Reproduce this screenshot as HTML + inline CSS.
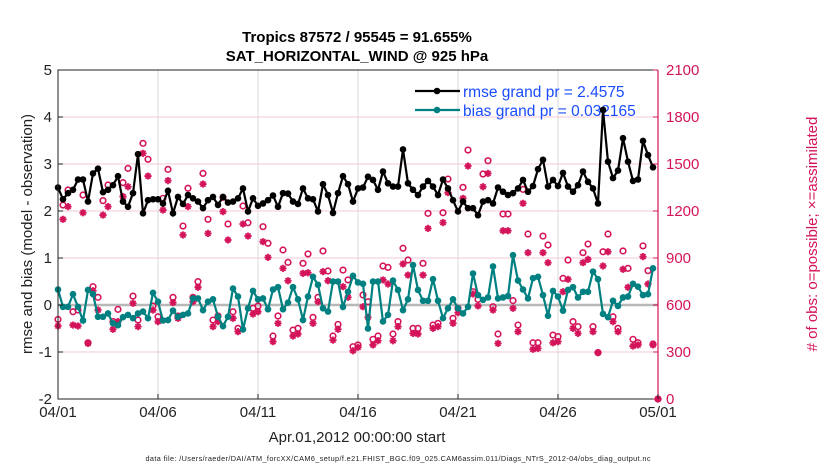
<!DOCTYPE html>
<html><head><meta charset="utf-8"><style>
body{margin:0;background:#fff;}
svg text{font-family:"Liberation Sans",Arial,sans-serif;}
</style></head><body>
<svg id="chart" width="830" height="470" xmlns="http://www.w3.org/2000/svg">
<rect width="830" height="470" fill="#fff"/>
<g id="grid"></g>
<g id="series"></g>
<g id="axes"></g>
</svg>
<script>
const rmse=[2.50,2.25,2.38,2.45,2.67,2.67,2.20,2.80,2.90,2.40,2.45,2.55,2.74,2.20,2.09,2.38,3.21,1.95,2.23,2.25,2.25,2.16,2.43,1.95,2.30,2.15,2.34,2.27,2.20,2.06,2.23,
2.30,2.13,2.30,2.18,2.20,2.27,2.48,1.99,2.27,2.11,2.16,2.23,2.33,2.09,2.38,2.37,2.20,2.15,2.48,2.27,2.25,1.99,2.57,2.34,1.96,2.38,2.74,2.57,2.20,2.48,
2.50,2.73,2.66,2.45,2.84,2.59,2.52,2.52,3.31,2.59,2.45,2.34,2.52,2.64,2.52,2.34,2.67,2.48,2.23,1.99,2.20,2.06,2.06,1.91,2.20,2.23,2.16,2.50,2.41,2.34,
2.38,2.48,2.66,2.41,2.53,2.89,3.09,2.52,2.66,2.53,2.81,2.52,2.41,2.55,2.84,2.62,2.48,2.16,4.15,3.05,2.70,2.86,3.55,3.05,2.64,2.67,3.49,3.19,2.93];
const bias=[0.33,-0.04,-0.04,0.23,-0.04,-0.33,0.32,0.23,-0.25,-0.25,-0.18,-0.39,-0.43,-0.26,-0.21,-0.28,-0.18,-0.14,-0.28,0.26,0.07,-0.33,-0.32,-0.12,-0.25,-0.21,-0.18,0.14,0.14,-0.11,0.07,
0.12,-0.25,-0.45,-0.25,0.35,0.18,-0.52,-0.07,0.30,0.12,0.14,-0.09,0.33,0.38,-0.09,0.05,0.38,0.12,-0.32,0.18,0.60,0.43,-0.07,-0.14,0.50,0.50,-0.04,0.28,0.62,0.48,
0.45,-0.50,0.50,0.50,-0.35,-0.21,0.52,0.32,-0.11,0.12,0.85,0.32,0.09,0.09,0.55,0.09,-0.28,-0.07,0.12,-0.07,-0.18,-0.04,0.67,0.21,0.11,0.16,0.82,0.14,0.16,0.19,
1.06,0.52,0.33,0.14,0.57,0.60,0.21,-0.23,0.30,0.18,-0.12,0.32,0.38,0.16,0.28,0.28,0.71,0.55,-0.19,-0.26,0.09,-0.02,0.16,0.18,0.45,0.39,0.21,0.23,0.78];
const nPossible=[508,1238,1334,557,568,1302,359,717,649,1266,1366,494,572,1381,1472,657,504,1632,1530,594,525,1281,1466,649,530,1104,1345,649,749,1440,1147,
504,530,1287,1117,557,451,1232,1125,579,594,1100,994,402,530,951,872,440,451,866,926,521,649,945,817,402,476,823,760,334,345,
664,621,381,402,849,840,415,494,962,887,451,451,866,1185,472,483,1189,1404,515,579,1351,1589,685,636,1436,1521,589,415,1181,1181,
628,472,1338,1053,359,359,1040,983,408,398,770,887,494,462,934,989,462,296,940,1053,525,451,945,834,381,359,977,819,351,0];
const nAssim=[466,1147,1228,472,466,1189,355,691,568,1174,1228,445,494,1292,1355,611,462,1568,1423,568,494,1206,1394,615,515,1047,1228,621,713,1372,1057,
462,494,1196,1015,515,430,1117,1040,542,557,1004,904,366,483,834,755,402,415,802,806,483,621,813,755,376,445,717,649,308,330,
589,521,345,372,760,734,372,462,862,791,419,415,791,1089,451,462,1126,1317,483,551,1281,1487,670,594,1355,1440,568,355,1074,1074,
579,430,1249,934,317,323,934,870,359,366,685,764,451,419,870,891,430,296,849,940,494,430,828,713,338,345,909,734,345,0];
const xTicks=["04/01","04/06","04/11","04/16","04/21","04/26","05/01"];
const yTicks=[-2,-1,0,1,2,3,4,5];
const rTicks=[0,300,600,900,1200,1500,1800,2100];

const NS="http://www.w3.org/2000/svg";
const L=58,R=658,T=70,B=399;
const x=d=>L+(R-L)*d/30;          // d in days
const xi=i=>x(i*0.25);
const y=v=>B-(B-T)*(v+2)/7;
const yr=n=>B-(B-T)*n/2100;
function mk(tag,attrs,parent,txt){const e=document.createElementNS(NS,tag);for(const k in attrs)e.setAttribute(k,attrs[k]);if(txt!==undefined)e.textContent=txt;parent.appendChild(e);return e;}
const G=document.getElementById('grid'),S=document.getElementById('series'),A=document.getElementById('axes');
const PINK="#d4145a",TEAL="#008080";

yTicks.forEach(v=>{if(v>-2&&v<5){const l=mk('line',{x1:L,x2:R,y1:y(v),y2:y(v),stroke:'#f3c9da','stroke-width':1},G);

}});
xTicks.forEach((t,k)=>{if(k>0&&k<6){const l=mk('line',{x1:x(k*5),x2:x(k*5),y1:T,y2:B,stroke:'#d8d8d8','stroke-width':1},G);

}});
const zl=mk('line',{x1:L,x2:R,y1:y(0),y2:y(0),stroke:'#b8b8b8','stroke-width':2.5},G);



// obs markers
const gObs=mk('g',{},S);


nPossible.forEach((n,i)=>{const c=mk('circle',{cx:xi(i),cy:yr(n),r:2.8,fill:'none',stroke:PINK,'stroke-width':1.6},gObs);

});
nAssim.forEach((n,i)=>{const cx=xi(i),cy=yr(n),s=3.6;let d='';
for(let a=0;a<4;a++){const an=a*Math.PI/4;d+=`M${cx-s*Math.cos(an)},${cy-s*Math.sin(an)}L${cx+s*Math.cos(an)},${cy+s*Math.sin(an)}`;}
const p=mk('path',{d:d,stroke:PINK,'stroke-width':1.8,fill:'none'},gObs);

});

function series(arr,col,name){const g=mk('g',{},S);


mk('polyline',{points:arr.map((v,i)=>xi(i)+','+y(v)).join(' '),fill:'none',stroke:col,'stroke-width':2.2},g);
arr.forEach((v,i)=>{const c=mk('circle',{cx:xi(i),cy:y(v),r:3.3,fill:col},g);

});}

// legend (drawn before rmse so rmse spike overlaps)
const lg=mk('g',{},S);


mk('line',{x1:415,x2:460,y1:91,y2:91,stroke:'#000','stroke-width':2.2},lg);
mk('circle',{cx:437,cy:91,r:3.3,fill:'#000'},lg);
mk('line',{x1:415,x2:460,y1:110,y2:110,stroke:TEAL,'stroke-width':2.2},lg);
mk('circle',{cx:437,cy:110,r:3.3,fill:TEAL},lg);
const t1=mk('text',{x:463,y:97,fill:'#1a4cff','font-size':15.5},lg,'rmse grand pr = 2.4575');


const t2=mk('text',{x:463,y:116,fill:'#1a4cff','font-size':15.5},lg,'bias grand pr = 0.032165');



series(bias,TEAL,'bias-series');
series(rmse,'#000','rmse-series');

// axes
mk('path',{d:`M${R},${T}L${L},${T}L${L},${B}L${R},${B}`,fill:'none',stroke:'#222','stroke-width':1},A);
const ra=mk('line',{x1:R,x2:R,y1:T,y2:B,stroke:PINK,'stroke-width':1.2},A);


yTicks.forEach(v=>{mk('line',{x1:L,x2:L+5,y1:y(v),y2:y(v),stroke:'#222'},A);
const t=mk('text',{x:L-6,y:y(v)+5,'text-anchor':'end','font-size':15,fill:'#222'},A,String(v));

});
rTicks.forEach(n=>{mk('line',{x1:R-5,x2:R,y1:yr(n),y2:yr(n),stroke:PINK},A);
const t=mk('text',{x:R+8,y:yr(n)+5,'font-size':15,fill:PINK},A,String(n));

});
xTicks.forEach((s,k)=>{mk('line',{x1:x(k*5),x2:x(k*5),y1:B,y2:B-5,stroke:'#222'},A);
const t=mk('text',{x:x(k*5),y:417,'text-anchor':'middle','font-size':15,fill:'#222'},A,s);

});
</script>
<svg style="position:absolute;left:0;top:0" width="830" height="470" xmlns="http://www.w3.org/2000/svg" pointer-events="none">
<text x="357" y="42" text-anchor="middle" font-size="15" font-weight="bold" font-family="Liberation Sans, sans-serif">Tropics 87572 / 95545 = 91.655%</text>
<text x="357" y="61" text-anchor="middle" font-size="15" font-weight="bold" font-family="Liberation Sans, sans-serif">SAT_HORIZONTAL_WIND @ 925 hPa</text>
<text transform="translate(32,234) rotate(-90)" text-anchor="middle" font-size="15" fill="#222" font-family="Liberation Sans, sans-serif">rmse and bias (model - observation)</text>
<text transform="translate(817,234) rotate(-90)" text-anchor="middle" font-size="15" fill="#d4145a" font-family="Liberation Sans, sans-serif"># of obs: o=possible; ×=assimilated</text>
<text x="357" y="442" text-anchor="middle" font-size="15" fill="#222" font-family="Liberation Sans, sans-serif">Apr.01,2012 00:00:00 start</text>
<text x="398" y="461" text-anchor="middle" font-size="7.3" fill="#222" font-family="Liberation Sans, sans-serif" textLength="505">data file: /Users/raeder/DAI/ATM_forcXX/CAM6_setup/f.e21.FHIST_BGC.f09_025.CAM6assim.011/Diags_NTrS_2012-04/obs_diag_output.nc</text>
</svg>
</body></html>
